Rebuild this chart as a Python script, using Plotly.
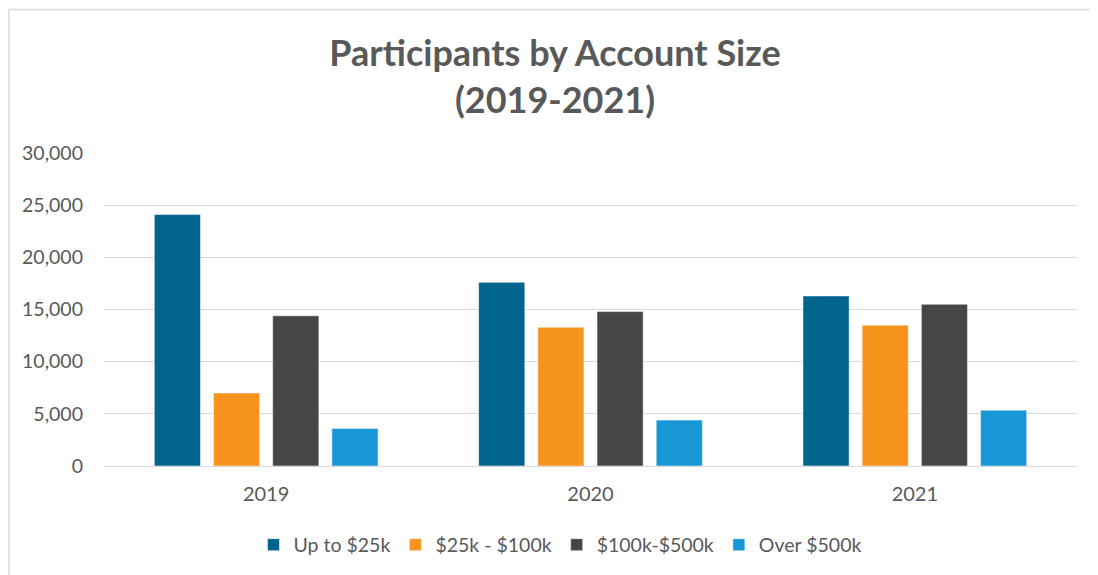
import plotly.graph_objects as go

years = ["2019", "2020", "2021"]
series_names = ["Up to $25k", "$25k - $100k", "$100k-$500k", "Over $500k"]
up_to_25k = [24100, 17600, 16300]
k25_to_100k = [7000, 13300, 13500]
k100_to_500k = [14400, 14800, 15500]
over_500k = [3600, 4400, 5350]
colors = ["#00648C", "#F7941D", "#464646", "#1797D6"]
y_ticks = [0, 5000, 10000, 15000, 20000, 25000, 30000]

series_values = [up_to_25k, k25_to_100k, k100_to_500k, over_500k]

fig = go.Figure()
for name, vals, col in zip(series_names, series_values, colors):
    fig.add_trace(go.Bar(
        x=years, y=vals, name=name,
        marker=dict(color=col, line=dict(color="rgba(255,255,255,0.5)", width=1)),
    ))

font_family = "Lato, Open Sans, sans-serif"
W, H = 1090, 567
L, R, T, B = 96, 21, 145, 108
plot_w = W - L - R
plot_h = H - T - B

fig.update_layout(
    width=W, height=H,
    paper_bgcolor="white", plot_bgcolor="white",
    margin=dict(l=L, r=R, t=T, b=B),
    barmode="group", bargap=0.27, bargroupgap=0.22,
    font=dict(family=font_family, color="#595959", size=19),
    title=dict(
        text="<b>Participants by Account Size<br>(2019-2021)</b>",
        x=(555 - 8) / W, xanchor="center", xref="container",
        y=1 - 58 / H, yanchor="middle", yref="container",
        font=dict(size=36, color="#595959", family=font_family),
    ),
    legend=dict(
        orientation="h", x=(552 - L) / plot_w, xanchor="center",
        y=-(537 - (H - B)) / plot_h, yanchor="middle",
        font=dict(size=19.5, color="#595959"), itemwidth=30, traceorder="normal",
    ),
    xaxis=dict(
        showgrid=False, showline=True, linecolor="#D9D9D9", linewidth=1,
        tickfont=dict(size=20, color="#595959"), ticks="", ticklabelstandoff=10,
    ),
    yaxis=dict(
        range=[0, 30000], tickvals=y_ticks, tickformat=",",
        showgrid=True, gridcolor="#D9D9D9", gridwidth=1,
        zeroline=False, showline=False,
        tickfont=dict(size=19.5, color="#595959"), ticklabelstandoff=20,
    ),
)

# outer chart border (top and left edges visible)
bx = -(L - 1) / plot_w
by = (H - B - 1) / plot_h
fig.add_shape(type="line", xref="paper", yref="paper",
              x0=bx, x1=1.05, y0=by, y1=by,
              line=dict(color="#D9D9D9", width=1.5))
fig.add_shape(type="line", xref="paper", yref="paper",
              x0=bx, x1=bx, y0=by, y1=-0.4,
              line=dict(color="#D9D9D9", width=1.5))

fig.write_html("out.html")
